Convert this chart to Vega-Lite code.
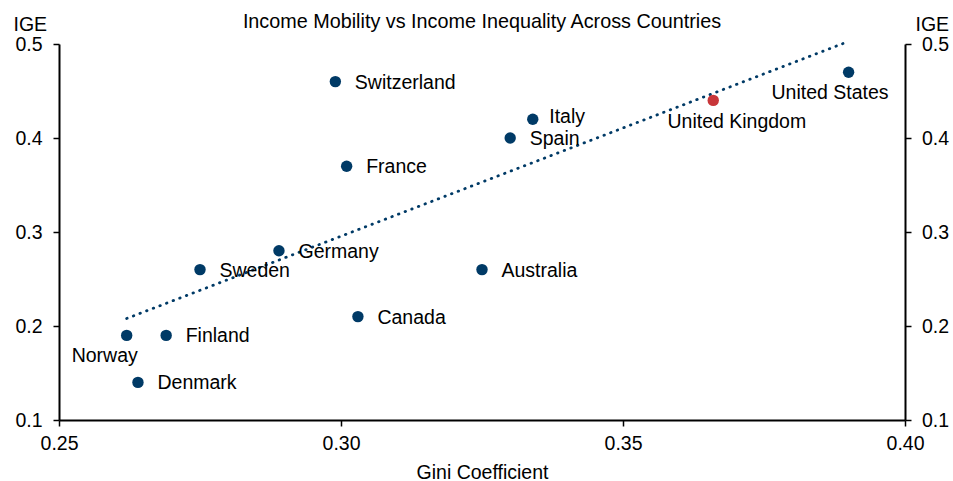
{
  "$schema": "https://vega.github.io/schema/vega-lite/v6.json",
  "autosize": "none",
  "width": 846,
  "height": 376,
  "padding": {"left": 59, "top": 44, "right": 48, "bottom": 61},
  "background": "white",
  "title": {
    "text": "Income Mobility vs Income Inequality Across Countries",
    "font": "Liberation Sans",
    "fontSize": 19.8,
    "fontWeight": "normal",
    "color": "#000000",
    "anchor": "middle",
    "frame": "group",
    "baseline": "alphabetic",
    "offset": 0,
    "dy": 34
  },
  "config": {
    "view": {"stroke": null},
    "font": "Liberation Sans",
    "axis": {
      "domainColor": "#000000",
      "domainWidth": 2,
      "tickColor": "#000000",
      "tickWidth": 1.5,
      "tickSize": 6,
      "grid": false,
      "labelFlush": false,
      "labelFont": "Liberation Sans",
      "labelFontSize": 19.5,
      "labelColor": "#000000",
      "titleFont": "Liberation Sans",
      "titleFontSize": 19.5,
      "titleFontWeight": "normal",
      "titleColor": "#000000"
    }
  },
  "datasets": {
    "countries": [
      {"country": "Norway", "gini": 0.262, "ige": 0.19},
      {"country": "Denmark", "gini": 0.264, "ige": 0.14},
      {"country": "Finland", "gini": 0.269, "ige": 0.19},
      {"country": "Sweden", "gini": 0.275, "ige": 0.26},
      {"country": "Germany", "gini": 0.289, "ige": 0.28},
      {"country": "Switzerland", "gini": 0.299, "ige": 0.46},
      {"country": "France", "gini": 0.301, "ige": 0.37},
      {"country": "Canada", "gini": 0.303, "ige": 0.21},
      {"country": "Australia", "gini": 0.325, "ige": 0.26},
      {"country": "Spain", "gini": 0.330, "ige": 0.40},
      {"country": "Italy", "gini": 0.334, "ige": 0.42},
      {"country": "United Kingdom", "gini": 0.366, "ige": 0.44},
      {"country": "United States", "gini": 0.390, "ige": 0.47}
    ],
    "trend": [
      {"gini": 0.262, "ige": 0.208},
      {"gini": 0.389, "ige": 0.5005}
    ]
  },
  "resolve": {"axis": {"y": "independent"}},
  "layer": [
    {
      "data": {"name": "trend"},
      "mark": {"type": "line", "color": "#003A66", "strokeWidth": 2.8, "strokeDash": [0.5, 6.6], "strokeCap": "round", "clip": false},
      "encoding": {
        "x": {"field": "gini", "type": "quantitative", "scale": {"domain": [0.25, 0.40], "nice": false, "zero": false},
          "axis": {"values": [0.25, 0.30, 0.35, 0.40], "format": ".2f", "labelPadding": 8,
            "title": "Gini Coefficient", "titleBaseline": "alphabetic", "titleY": 58}},
        "y": {"field": "ige", "type": "quantitative", "scale": {"domain": [0.1, 0.5], "nice": false, "zero": false},
          "axis": {"orient": "right", "values": [0.1, 0.2, 0.3, 0.4, 0.5], "format": ".1f", "labelPadding": 10.5,
            "title": "IGE", "titleAngle": 0, "titleAlign": "left", "titleBaseline": "alphabetic", "titleX": 10, "titleY": -14}}
      }
    },
    {
      "data": {"name": "countries"},
      "mark": {"type": "circle", "size": 130, "opacity": 1},
      "encoding": {
        "x": {"field": "gini", "type": "quantitative", "scale": {"domain": [0.25, 0.40], "nice": false, "zero": false}},
        "y": {"field": "ige", "type": "quantitative", "scale": {"domain": [0.1, 0.5], "nice": false, "zero": false},
          "axis": {"orient": "left", "values": [0.1, 0.2, 0.3, 0.4, 0.5], "format": ".1f", "labelPadding": 11,
            "title": "IGE", "titleAngle": 0, "titleAlign": "left", "titleBaseline": "alphabetic", "titleX": -46, "titleY": -14}},
        "color": {"condition": {"test": "datum.country === 'United Kingdom'", "value": "#C8363A"}, "value": "#003A66"}
      }
    },
    {
      "data": {"name": "countries"},
      "transform": [{"filter": "indexof(['Norway','Italy','United Kingdom','United States'], datum.country) < 0"}],
      "mark": {"type": "text", "align": "left", "baseline": "middle", "dx": 19.5, "dy": 1, "fontSize": 19.5, "color": "#000000"},
      "encoding": {
        "x": {"field": "gini", "type": "quantitative", "scale": {"domain": [0.25, 0.40], "nice": false, "zero": false}},
        "y": {"field": "ige", "type": "quantitative", "scale": {"domain": [0.1, 0.5], "nice": false, "zero": false}, "axis": null},
        "text": {"field": "country"}
      }
    },
    {
      "data": {"name": "countries"},
      "transform": [{"filter": "datum.country === 'Italy'"}],
      "mark": {"type": "text", "align": "left", "baseline": "middle", "dx": 16.5, "dy": -2, "fontSize": 19.5, "color": "#000000"},
      "encoding": {
        "x": {"field": "gini", "type": "quantitative", "scale": {"domain": [0.25, 0.40], "nice": false, "zero": false}},
        "y": {"field": "ige", "type": "quantitative", "scale": {"domain": [0.1, 0.5], "nice": false, "zero": false}, "axis": null},
        "text": {"field": "country"}
      }
    },
    {
      "data": {"name": "countries"},
      "transform": [{"filter": "datum.country === 'Norway'"}],
      "mark": {"type": "text", "align": "center", "baseline": "middle", "dx": -22, "dy": 20.5, "fontSize": 19.5, "color": "#000000"},
      "encoding": {
        "x": {"field": "gini", "type": "quantitative", "scale": {"domain": [0.25, 0.40], "nice": false, "zero": false}},
        "y": {"field": "ige", "type": "quantitative", "scale": {"domain": [0.1, 0.5], "nice": false, "zero": false}, "axis": null},
        "text": {"field": "country"}
      }
    },
    {
      "data": {"name": "countries"},
      "transform": [{"filter": "datum.country === 'United Kingdom'"}],
      "mark": {"type": "text", "align": "center", "baseline": "middle", "dx": 23.6, "dy": 22, "fontSize": 19.5, "color": "#000000"},
      "encoding": {
        "x": {"field": "gini", "type": "quantitative", "scale": {"domain": [0.25, 0.40], "nice": false, "zero": false}},
        "y": {"field": "ige", "type": "quantitative", "scale": {"domain": [0.1, 0.5], "nice": false, "zero": false}, "axis": null},
        "text": {"field": "country"}
      }
    },
    {
      "data": {"name": "countries"},
      "transform": [{"filter": "datum.country === 'United States'"}],
      "mark": {"type": "text", "align": "center", "baseline": "middle", "dx": -18.6, "dy": 20.5, "fontSize": 19.5, "color": "#000000"},
      "encoding": {
        "x": {"field": "gini", "type": "quantitative", "scale": {"domain": [0.25, 0.40], "nice": false, "zero": false}},
        "y": {"field": "ige", "type": "quantitative", "scale": {"domain": [0.1, 0.5], "nice": false, "zero": false}, "axis": null},
        "text": {"field": "country"}
      }
    }
  ]
}
